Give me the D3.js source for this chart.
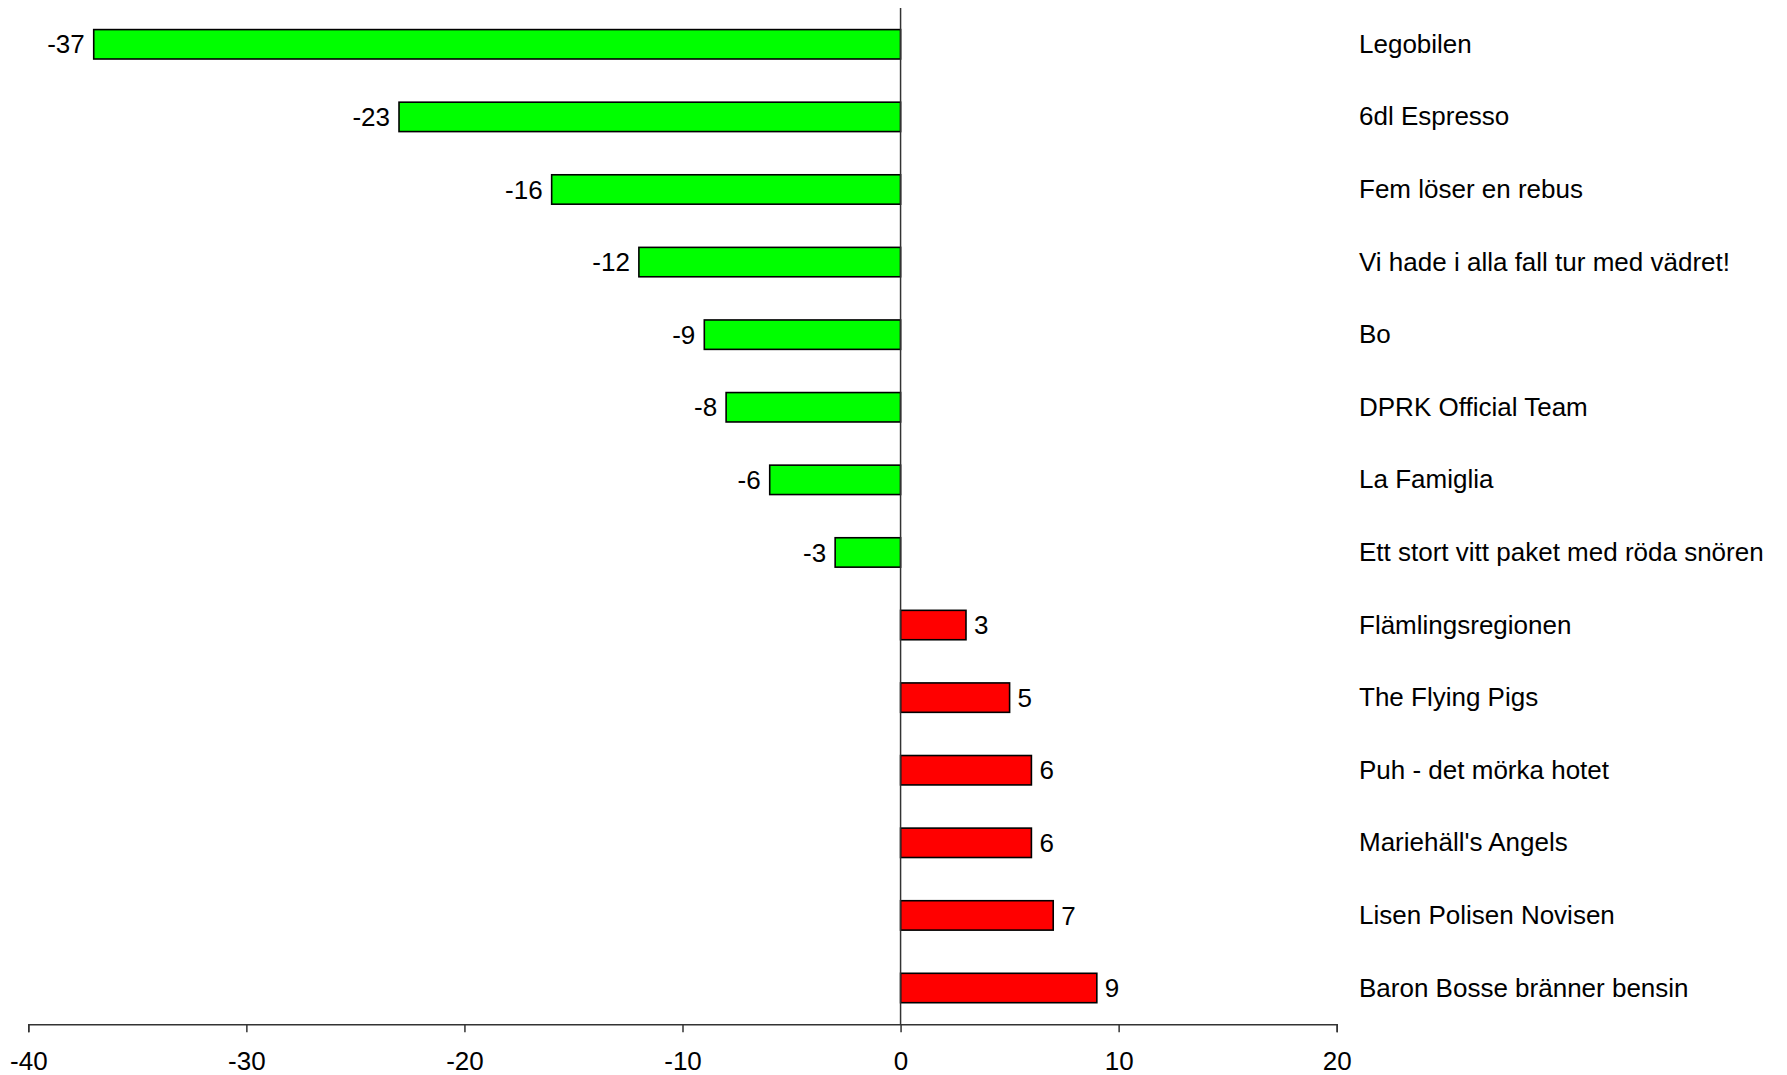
<!DOCTYPE html>
<html><head><meta charset="utf-8">
<script src="https://cdn.jsdelivr.net/npm/d3@7"></script>
<style>body{margin:0;background:#fff}svg{display:block}text{font-family:"Liberation Sans",Arial,sans-serif;fill:#000}</style>
</head><body><svg id="c" width="1787" height="1075"></svg>
<script>
const categories = ["Legobilen","6dl Espresso","Fem löser en rebus","Vi hade i alla fall tur med vädret!","Bo","DPRK Official Team","La Famiglia","Ett stort vitt paket med röda snören","Flämlingsregionen","The Flying Pigs","Puh - det mörka hotet","Mariehäll's Angels","Lisen Polisen Novisen","Baron Bosse bränner bensin"];
const values = [-37,-23,-16,-12,-9,-8,-6,-3,3,5,6,6,7,9];
const tickValues = [-40,-30,-20,-10,0,10,20];

const svg = d3.select("#c");
const x = d3.scaleLinear().domain([-40,20]).range([28.3,1336.7]);
const y = d3.scaleBand().domain(categories).range([8,1024.3]).paddingInner(0.595).paddingOuter(0.2975);
const fs = "26px";

svg.append("g").selectAll("rect").data(values).join("rect")
  .attr("x",(d)=>x(Math.min(0,d)))
  .attr("y",(d,i)=>y(categories[i]))
  .attr("width",d=>Math.abs(x(d)-x(0)))
  .attr("height",y.bandwidth())
  .attr("fill",d=>d<0?"#00FF00":"#FF0000")
  .attr("stroke","#000").attr("stroke-width",1.6);

svg.append("line").attr("x1",x(0)).attr("x2",x(0)).attr("y1",8).attr("y2",1024.3)
  .attr("stroke","#333").attr("stroke-width",1.5);

const ax = svg.append("g").attr("transform","translate(0,1024.3)")
  .call(d3.axisBottom(x).tickValues(tickValues).tickSize(8).tickPadding(19).tickFormat(d=>String(d)));
ax.select(".domain").attr("stroke","#333").attr("stroke-width",1.5);
ax.selectAll(".tick line").attr("stroke","#333").attr("stroke-width",1.5);
ax.selectAll(".tick text").style("font-size",fs).style("font-family",'"Liberation Sans",Arial,sans-serif').attr("fill","#000");

svg.append("g").selectAll("text").data(values).join("text")
  .attr("x",d=>d<0?x(d)-9:x(d)+8)
  .attr("y",(d,i)=>y(categories[i])+y.bandwidth()/2)
  .attr("dy","0.35em")
  .attr("text-anchor",d=>d<0?"end":"start")
  .style("font-size",fs)
  .text(d=>String(d));

svg.append("g").selectAll("text").data(categories).join("text")
  .attr("x",1359)
  .attr("y",d=>y(d)+y.bandwidth()/2)
  .attr("dy","0.33em")
  .style("font-size",fs)
  .text(d=>d);
</script></body></html>
